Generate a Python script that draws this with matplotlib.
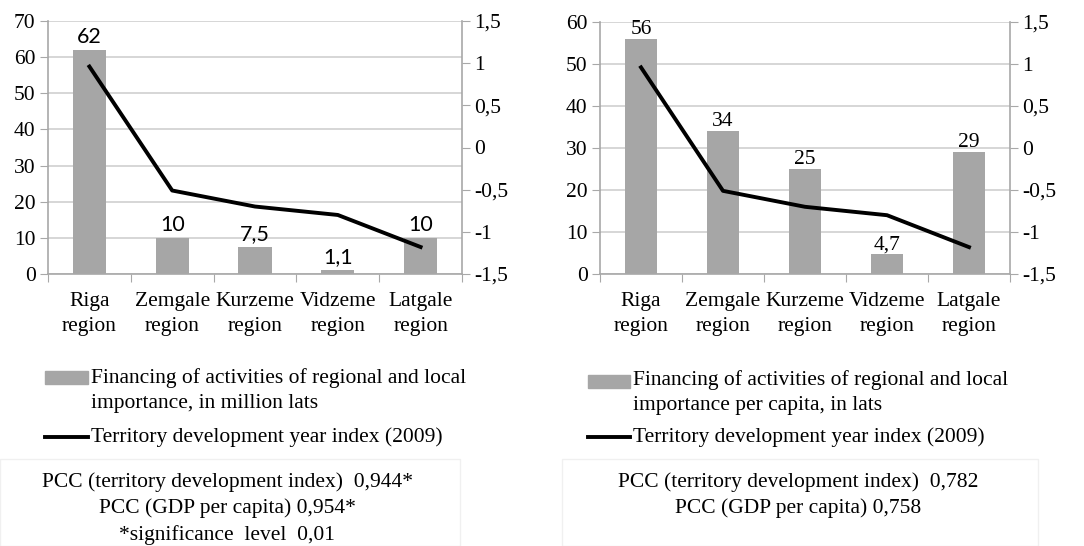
import matplotlib.pyplot as plt
from matplotlib.patches import Rectangle
from matplotlib.lines import Line2D
from matplotlib.ticker import FuncFormatter

regions = ["Riga\nregion", "Zemgale\nregion", "Kurzeme\nregion", "Vidzeme\nregion", "Latgale\nregion"]
financing_total = [62, 10, 7.5, 1.1, 10]
financing_per_capita = [56, 34, 25, 4.7, 29]
dev_index = [0.96, -0.51, -0.70, -0.80, -1.18]
total_labels = ["62", "10", "7,5", "1,1", "10"]
per_capita_labels = ["56", "34", "25", "4,7", "29"]

plt.rcParams['font.family'] = ['Liberation Serif', 'DejaVu Serif']

W, H = 1084, 546
BAR = '#a6a6a6'
GRID = '#cfcfcf'
SPINE = '#a8a8a8'
FS = 15.5


def comma(v, pos):
    return f"{v:g}".replace('.', ',')


def px(x, y):
    # pixel position (from top-left) to figure fraction
    return x / W, 1 - y / H


def panel(fig, rect, values, labels, ymax, label_font, label_offset):
    x0, top, x1, bottom = rect
    ax = fig.add_axes([x0 / W, 1 - bottom / H, (x1 - x0) / W, (bottom - top) / H])
    xs = range(len(values))
    ax.bar(xs, values, width=0.4, color=BAR, zorder=2)
    ax.set_xlim(-0.5, len(values) - 0.5)
    ax.set_ylim(0, ymax)
    ax.set_yticks(range(0, ymax + 1, 10))
    ax.yaxis.grid(True, color=GRID, lw=1.2, zorder=0)
    ax.set_xticks([i - 0.5 for i in range(len(values) + 1)])
    ax.set_xticklabels([])
    ax.set_xticks(list(xs), minor=True)
    ax.set_xticklabels(regions, minor=True, fontsize=FS, linespacing=1.45)
    ax.tick_params(axis='x', which='major', length=6, color=SPINE)
    ax.tick_params(axis='x', which='minor', length=0, pad=13)
    ax.tick_params(axis='y', length=6, color=SPINE, labelsize=FS, pad=3)
    for s in ['top', 'right']:
        ax.spines[s].set_visible(False)
    for s in ['left', 'bottom']:
        ax.spines[s].set_color(SPINE)
        ax.spines[s].set_linewidth(1.2)
    for x, v, t in zip(xs, values, labels):
        ax.annotate(t, (x, v), xytext=(0, label_offset), textcoords='offset points',
                    ha='center', va='bottom', fontsize=FS, family=label_font, zorder=5)

    ax2 = ax.twinx()
    ax2.plot(list(xs), dev_index, color='black', lw=2.8, zorder=4)
    ax2.set_ylim(-1.5, 1.5)
    ax2.set_yticks([-1.5, -1, -0.5, 0, 0.5, 1, 1.5])
    ax2.yaxis.set_major_formatter(FuncFormatter(comma))
    ax2.tick_params(axis='y', length=6, color=SPINE, labelsize=FS, pad=3)
    for s in ['top', 'left', 'bottom']:
        ax2.spines[s].set_visible(False)
    ax2.spines['right'].set_color(SPINE)
    ax2.spines['right'].set_linewidth(1.2)
    return ax


def legend(fig, x0, x1, patch_y, line1_y, line_y, text):
    fig.patches.append(Rectangle(px(x0, patch_y + 6.5), (x1 - x0) / W, 13 / H,
                                 transform=fig.transFigure, color=BAR))
    fig.lines.append(Line2D([x0 / W, x1 / W], [1 - line_y / H] * 2,
                            transform=fig.transFigure, color='black', lw=2.8))
    fig.text(*px(x1 + 3, line1_y - 10), text, ha='left', va='top',
             fontsize=FS, linespacing=1.45)
    fig.text(*px(x1 + 3, line_y), "Territory development year index (2009)",
             ha='left', va='center', fontsize=FS)


fig = plt.figure(figsize=(W / 100, H / 100), dpi=100)
panel(fig, (48, 21, 462, 274), financing_total, total_labels, 70, ['Lato', 'DejaVu Sans'], 2)
panel(fig, (600, 22, 1010, 274), financing_per_capita, per_capita_labels, 60, ['Liberation Serif'], 0)

legend(fig, 45, 88, 377, 378, 437,
       "Financing of activities of regional and local\nimportance, in million lats")
legend(fig, 588, 630, 381, 380, 437,
       "Financing of activities of regional and local\nimportance per capita, in lats")

# PCC boxes
fig.patches.append(Rectangle((0, 0), 460 / W, (H - 459) / H, transform=fig.transFigure,
                             fill=False, edgecolor='#f0f0f0', lw=1))
fig.patches.append(Rectangle((562 / W, 0), 476 / W, (H - 459) / H, transform=fig.transFigure,
                             fill=False, edgecolor='#f0f0f0', lw=1))

left_pcc = ["PCC (territory development index)  0,944*",
            "PCC (GDP per capita) 0,954*",
            "*significance  level  0,01"]
right_pcc = ["PCC (territory development index)  0,782",
             "PCC (GDP per capita) 0,758"]
for i, t in enumerate(left_pcc):
    fig.text(*px(227, 482 + 26.5 * i), t, ha='center', va='center', fontsize=FS)
for i, t in enumerate(right_pcc):
    fig.text(*px(798, 482 + 26.5 * i), t, ha='center', va='center', fontsize=FS)

fig.savefig('out.png', dpi=100)
